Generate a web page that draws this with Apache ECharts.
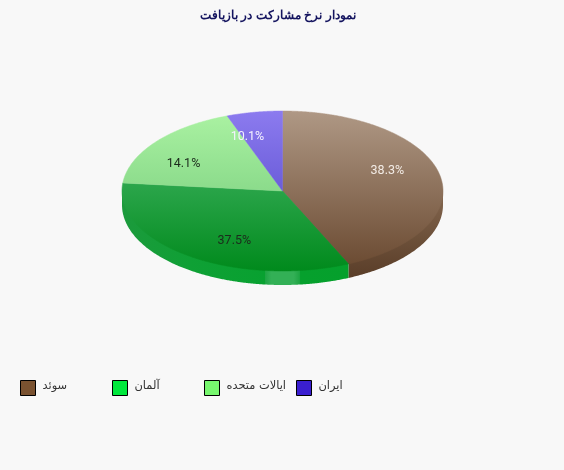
<!DOCTYPE html>
<html><head><meta charset="utf-8">
<style>html,body{margin:0;padding:0;background:#f8f8f8}#c{width:564px;height:470px}</style>
<script src="https://cdn.jsdelivr.net/npm/echarts@6/dist/echarts.min.js"></script>
</head><body><div id="c"></div>
<script>
const titleText = 'نمودار نرخ مشارکت در بازیافت';
const categories = ['سوئد','آلمان','ایالات متحده','ایران'];
const values = [38.3,37.5,14.1,10.1];
const legendColors = ['#7a5230','#00e83c','#77f76e','#3a1fd0'];
const legendLefts = [20,112,204,296];
const topColors = [['#af9885','#6c4c33'],['#2ca64c','#008a1c'],['#a9f1a1','#8bdb8b'],['#8c7bef','#6b5dd9']];
const labelColors = ['#f3ece6','#1c2b1c','#1c2b1c','#f4f2ff'];

const cx=282.5, cy=191, rx=160.5, ry=80, depth=14, labelK=0.7;
const total = values.reduce((a,b)=>a+b,0);
function rim(t){ // true screen angle clipped to the ellipse
  const s=Math.sin(t), c=Math.cos(t);
  const r=1/Math.sqrt((s/rx)*(s/rx)+(c/ry)*(c/ry));
  return [cx+r*s, cy-r*c];
}
function arc(a,b){ const pts=[]; const n=Math.max(2,Math.ceil(Math.abs(b-a)/0.01));
  for(let i=0;i<=n;i++) pts.push(rim(a+(b-a)*i/n)); return pts; }
function vGrad(stops){ return {type:'linear',x:0,y:0,x2:0,y2:1,colorStops:stops}; }
const brownSide={type:'linear',global:true,x:0,y:cy,x2:0,y2:cy+ry+depth,colorStops:[{offset:0,color:'#84674f'},{offset:1,color:'#563a25'}]};
const greenSide={type:'linear',global:true,x:cx-rx,y:0,x2:348,y2:0,colorStops:[
  {offset:0,color:'#1c9a3c'},{offset:0.3,color:'#0fa035'},{offset:0.632,color:'#08a130'},
  {offset:0.635,color:'#1fa544'},{offset:0.66,color:'#33b056'},{offset:0.76,color:'#33b056'},
  {offset:0.785,color:'#1fa544'},{offset:0.79,color:'#06a02d'},{offset:1,color:'#05a02c'}]};

function renderSlice(idx){
  return function(params,api){
    const val=api.value(0);
    let before=0; for(let i=0;i<idx;i++) before+=values[i];
    const a=before/total*2*Math.PI, b=(before+val)/total*2*Math.PI;
    const children=[];
    // visible side wall: lower half only, extended under the top face so no seam shows
    const sa=Math.max(a,Math.PI/2), sb=Math.min(b,Math.PI*1.5);
    if(sb>sa){
      const up=arc(sa,sb), down=up.slice().reverse().map(p=>[p[0],p[1]+depth]);
      children.push({type:'polygon',shape:{points:[[cx,cy],up[up.length-1]].concat(down,[up[0]])},
        style:{fill:idx===0?brownSide:greenSide}});
    }
    // top face
    const g=vGrad([{offset:0,color:topColors[idx][0]},{offset:1,color:topColors[idx][1]}]);
    children.push({type:'polygon',shape:{points:[[cx,cy]].concat(arc(a,b))},
      style:{fill:g,stroke:g,lineWidth:0.5}});
    // label
    const m=(a+b)/2;
    children.push({type:'text',style:{x:cx+labelK*rx*Math.sin(m),y:cy-0.5-labelK*ry*Math.cos(m),
      text:val.toFixed(1)+'%',fill:labelColors[idx],font:'12.5px Roboto',align:'center',verticalAlign:'middle'}});
    return {type:'group',children:children};
  };
}

const chart=echarts.init(document.getElementById('c'),null,{renderer:'canvas'});
chart.setOption({
  backgroundColor:'#f8f8f8',
  animation:false,
  title:{text:titleText,left:200,top:10,padding:0,
    textStyle:{fontFamily:'Liberation Sans',fontSize:12.4,fontWeight:'bold',color:'#14145f'}},
  legend:categories.map((n,i)=>({data:[n],left:legendLefts[i],top:380,orient:'horizontal',
    itemWidth:15,itemHeight:15,itemGap:6,icon:'rect',selectedMode:false,padding:0,
    itemStyle:{borderColor:'#000',borderWidth:1},
    formatter:'{t|{name}}',
    textStyle:{rich:{t:{fontFamily:'DejaVu Sans',fontSize:11.4,color:'#333',padding:[0,0,4,2]}}}})),
  series:categories.map((n,i)=>({type:'custom',name:n,coordinateSystem:'none',
    itemStyle:{color:legendColors[i]},data:[[values[i]]],renderItem:renderSlice(i)}))
});
</script></body></html>
